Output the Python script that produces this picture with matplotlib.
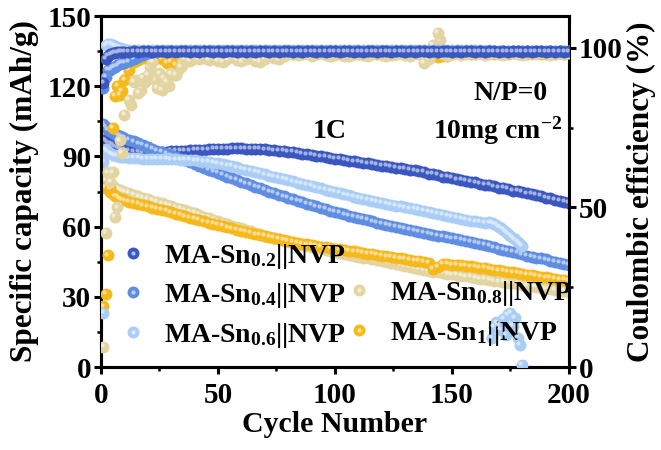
import matplotlib
matplotlib.use("Agg")
import matplotlib.pyplot as plt
from matplotlib.lines import Line2D
from matplotlib.transforms import ScaledTranslation
from matplotlib.colors import to_rgb
from matplotlib.ticker import MultipleLocator

plt.rcParams['font.family'] = 'Liberation Serif'
plt.rcParams['font.weight'] = 'bold'
plt.rcParams['axes.labelweight'] = 'bold'
plt.rcParams['mathtext.fontset'] = 'custom'
plt.rcParams['mathtext.rm'] = 'Liberation Serif:bold'
plt.rcParams['mathtext.bf'] = 'Liberation Serif:bold'
plt.rcParams['mathtext.it'] = 'Liberation Serif:bold'
plt.rcParams['mathtext.default'] = 'bf'

# cycle numbers (every cycle at the start, every 2nd after)
cyc = list(range(1, 11)) + list(range(12, 201, 2))
cyc_06 = list(range(1, 11)) + list(range(12, 167, 2)) + list(range(167, 181))

# specific capacity, mAh/g
cap_02 = [97.0, 96.5, 96.0, 95.4, 94.8, 94.3, 93.8, 93.4, 93.0, 92.7,
          92.3, 92.0, 91.8, 91.7, 91.7, 91.8, 91.9, 92.0, 92.1, 92.2, 92.3, 92.4, 92.5, 92.6, 92.7,
          92.8, 92.9, 93.0, 93.1, 93.2, 93.3, 93.3, 93.4, 93.4, 93.4, 93.3, 93.3, 93.2, 93.1, 93.0, 92.8, 92.6, 92.4, 92.2, 92.0,
          91.8, 91.5, 91.2, 90.9, 90.6, 90.3, 90.0, 89.7, 89.4, 89.1, 88.8, 88.5, 88.2, 87.9, 87.6, 87.3, 87.0, 86.7, 86.4, 86.1,
          85.8, 85.5, 85.2, 84.9, 84.6, 84.3, 84.0, 83.6, 83.4, 82.6, 82.4, 82.0, 81.4, 81.3, 80.8, 80.2, 80.1, 79.6, 79.0, 78.9,
          78.4, 77.8, 77.7, 77.2, 76.6, 76.5, 76.0, 75.4, 75.3, 74.8, 74.2, 74.1, 73.4, 73.1, 72.4, 72.1, 71.4, 71.1, 70.4, 70.0]
cap_04 = [104.0, 102.5, 101.5, 100.8, 100.2, 99.7, 99.2, 98.8, 98.4, 98.0,
          97.2, 96.4, 95.6, 94.8, 94.0, 93.2, 92.5, 91.8, 91.1, 90.4, 89.7, 89.0, 88.3, 87.6, 86.9,
          86.0, 85.2, 84.4, 83.6, 82.8, 82.0, 81.3, 80.6, 79.9, 79.2, 78.5, 77.8, 77.1, 76.4, 75.7, 75.0, 74.3, 73.6, 72.9, 72.2,
          71.6, 71.0, 70.4, 69.8, 69.2, 68.6, 68.0, 67.4, 66.8, 66.2, 65.7, 65.2, 64.7, 64.2, 63.7, 63.2, 62.7, 62.2, 61.7, 61.2,
          60.7, 60.2, 59.8, 59.4, 59.0, 58.6, 58.2, 57.8, 57.4, 57.0, 56.6, 56.2, 55.8, 55.4, 55.0, 54.6, 54.2, 53.8, 53.4, 53.0,
          52.6, 52.1, 51.6, 51.1, 50.6, 50.1, 49.6, 49.1, 48.6, 48.1, 47.6, 47.2, 46.8, 46.4, 46.0, 45.5, 45.0, 44.5, 44.0, 43.6]
cap_06 = [87.6, 93.0, 92.0, 91.3, 90.8, 90.4, 90.1, 89.9, 89.7, 89.6,
          89.4, 89.3, 89.2, 89.1, 89.0, 88.9, 88.9, 88.8, 88.8, 88.7, 88.7, 88.6, 88.5, 88.4, 88.3,
          88.1, 87.9, 87.6, 87.3, 87.0, 86.6, 86.2, 85.8, 85.3, 84.8, 84.3, 83.8, 83.3, 82.8, 82.3, 81.8, 81.3, 80.8, 80.3, 79.8,
          79.3, 78.8, 78.3, 77.8, 77.3, 76.8, 76.3, 75.8, 75.3, 74.8, 74.3, 73.8, 73.3, 72.8, 72.3, 71.8, 71.4, 71.0, 70.6, 70.2,
          69.8, 69.4, 69.0, 68.6, 68.2, 67.8, 67.4, 67.0, 66.6, 66.2, 65.8, 65.4, 65.0, 64.6, 64.2, 63.8, 63.4, 63.0, 62.6, 62.2,
          62.0, 61.7, 61.8,
          61.6, 61.2, 60.7, 60.0, 59.3, 58.5, 57.7, 56.9, 56.1, 55.3, 54.5, 53.6, 52.7, 51.8]
cap_08 = [78.0, 79.5, 78.5, 77.8, 77.2, 76.6, 76.2, 75.8, 75.4, 75.0,
          74.3, 73.6, 72.9, 72.3, 71.7, 71.1, 70.5, 69.9, 69.3, 68.7, 68.1, 67.5, 66.9, 66.3, 65.7,
          65.0, 64.3, 63.6, 62.9, 62.2, 61.6, 61.0, 60.4, 59.8, 59.2, 58.6, 58.0, 57.4, 56.8, 56.2, 55.6, 55.0, 54.5, 54.0, 53.5,
          53.0, 52.5, 52.0, 51.6, 51.2, 50.8, 50.4, 50.0, 49.6, 49.2, 48.8, 48.4, 48.0, 47.6, 47.2, 46.8, 46.4, 46.0, 45.6, 45.2,
          44.8, 44.4, 44.0, 43.6, 43.2, 42.8, 42.4, 42.0, 41.6, 41.2, 40.8, 40.5, 40.2, 39.9, 39.6, 39.3, 39.0, 38.7, 38.4, 38.1,
          37.8, 37.5, 37.2, 36.9, 36.6, 36.3, 36.0, 35.7, 35.4, 35.1, 34.8, 34.5, 34.2, 33.9, 33.6, 33.3, 33.0, 32.7, 32.4, 32.1]
cap_1 = [77.0, 76.5, 76.0, 75.0, 74.0, 73.2, 72.6, 72.0, 71.6, 71.2,
         70.6, 70.1, 69.6, 69.1, 68.6, 68.1, 67.6, 67.1, 66.6, 66.1, 65.6, 65.0, 64.4, 63.8, 63.2,
         62.7, 62.2, 61.7, 61.2, 60.7, 60.2, 59.7, 59.2, 58.7, 58.2, 57.7, 57.2, 56.7, 56.3, 55.9, 55.5, 55.1, 54.7, 54.3, 53.9,
         53.5, 53.1, 52.7, 52.4, 52.1, 51.8, 51.5, 51.2, 50.9, 50.6, 50.3, 50.0, 49.7, 49.4, 49.1, 48.8, 48.5, 48.2, 47.9, 47.6,
         47.3, 47.0, 46.7, 46.4, 46.1, 45.8, 45.5, 45.2, 44.9, 44.6, 42.0, 42.8, 44.2, 44.0, 43.8, 43.6, 43.4, 43.2, 43.0, 42.8,
         42.5, 42.2, 41.9, 41.6, 41.3, 41.0, 40.7, 40.4, 40.1, 39.8, 39.5, 39.2, 38.9, 38.6, 38.3, 38.0, 37.7, 37.4, 37.1, 36.8]

# coulombic efficiency, %
ce_02 = [89.0, 96.5, 97.6, 98.0, 98.3, 98.5, 98.6, 98.7, 98.7, 98.8,
         98.8, 98.9, 98.8, 98.9, 98.9, 98.8, 98.9, 98.9, 98.8, 98.9, 98.8, 98.9, 98.9, 98.8, 98.9,
         98.8, 98.9, 98.9, 98.8, 98.9, 98.8, 98.9, 98.9, 98.8, 98.9, 98.8, 98.9, 98.8, 98.9, 98.9, 98.8, 98.9, 98.8, 98.9, 98.9,
         98.8, 98.9, 98.8, 98.9, 98.9, 98.8, 98.9, 98.8, 98.9, 98.9, 98.8, 98.9, 98.9, 98.8, 98.9, 98.8, 98.9, 98.9, 98.8, 98.9,
         98.9, 98.8, 98.9, 98.9, 98.8, 98.9, 98.8, 98.9, 98.9, 98.8, 98.9, 98.8, 98.9, 98.9, 98.8, 98.9, 98.8, 98.9, 98.9, 98.8,
         98.9, 98.8, 98.9, 98.9, 98.8, 98.9, 98.8, 98.9, 98.9, 98.8, 98.9, 98.8, 98.9, 98.9, 98.8, 98.9, 98.8, 98.9, 98.8, 98.9]
ce_04 = [87.5, 91.0, 93.0, 93.2, 93.7, 94.0, 94.5, 95.0, 95.2, 95.4,
         95.8, 96.5, 97.2, 97.8, 98.3, 98.6, 98.8, 98.9, 98.9, 99.0, 99.0, 98.9, 99.0, 99.0, 98.9,
         99.0, 99.0, 98.9, 99.0, 99.1, 99.0, 98.9, 99.0, 99.0, 99.1, 99.0, 98.9, 99.0, 99.0, 99.1, 99.0, 99.0, 98.9, 99.0, 99.0,
         99.1, 99.0, 98.9, 99.0, 99.0, 99.1, 99.0, 99.0, 98.9, 99.0, 99.0, 99.1, 99.0, 98.9, 99.0, 99.0, 99.1, 99.0, 99.0, 98.9,
         99.0, 99.0, 99.1, 99.0, 98.9, 99.0, 99.0, 99.1, 99.0, 99.0, 98.9, 99.0, 99.0, 99.1, 99.0, 98.9, 99.0, 99.0, 99.1, 99.0,
         99.0, 98.9, 99.0, 99.0, 99.1, 99.0, 98.9, 99.0, 99.0, 99.1, 99.0, 99.0, 98.9, 99.0, 99.0, 99.1, 99.0, 98.9, 99.0, 99.0]
ce_06 = [17.0, 100.8, 101.3, 101.2, 101.0, 100.7, 100.4, 100.1, 99.8, 99.6,
         99.4, 99.3, 99.3, 99.2, 99.2, 99.3, 99.2, 99.2, 99.3, 99.2, 99.2, 99.3, 99.2, 99.2, 99.3,
         99.2, 99.2, 99.3, 99.2, 99.2, 99.3, 99.2, 99.2, 99.3, 99.2, 99.2, 99.3, 99.2, 99.2, 99.3, 99.2, 99.2, 99.3, 99.2, 99.2,
         99.3, 99.2, 99.2, 99.3, 99.2, 99.2, 99.3, 99.2, 99.2, 99.3, 99.2, 99.2, 99.3, 99.2, 99.2, 99.3, 99.2, 99.2, 99.3, 99.2,
         99.2, 99.3, 99.2, 99.2, 99.3, 99.2, 99.2, 99.3, 99.2, 99.2, 99.3, 99.2, 99.2, 99.3, 99.2, 99.2, 99.3, 99.2, 99.2, 99.3,
         99.2, 99.1, 99.2,
         9.0, 12.5, 14.0, 13.0, 11.6, 15.0, 10.0, 16.5, 17.0, 13.0, 15.5, 9.0, 7.0, 0.6]
ce_08 = [6.3, 42.0, 61.0, 58.0, 61.0, 47.0, 50.0, 71.0, 67.0, 79.0,
         83.7, 89.3, 85.9, 90.5, 91.5, 95.6, 87.5, 86.8, 89.3, 92.0, 91.5, 94.0, 96.5, 96.0, 97.0,
         96.5, 97.0, 96.3, 96.8, 96.0, 95.6, 96.4, 97.2, 96.2, 95.8, 96.6, 97.3, 96.0, 95.7, 96.5, 97.5, 97.0, 96.4, 97.6, 98.0,
         98.2, 97.8, 98.4, 98.0, 97.6, 98.3, 98.5, 97.9, 97.5, 97.8, 98.2, 97.6, 97.4, 98.0, 98.3, 97.7, 97.5, 98.1, 98.4, 97.9,
         97.6, 97.8, 98.2, 98.5, 97.9, 97.6, 98.0, 98.4, 95.3, 96.5, 101.0, 104.7, 98.0, 97.4, 98.2, 98.5, 97.8, 98.1, 98.4, 98.0,
         98.3, 97.9, 98.2, 98.5, 98.0, 97.8, 98.3, 98.5, 98.1, 97.9, 98.4, 98.2, 98.0, 98.5, 98.3, 97.9, 98.2, 98.4, 98.1, 98.3]
ce_1 = [19.0, 23.0, 35.0, 56.0, 75.0, 85.0, 88.0, 85.3, 86.5, 90.0,
        93.0, 95.5, 96.2, 97.0, 97.3, 97.5, 97.0, 96.5, 95.2, 95.5, 94.7, 95.2, 96.5, 97.5, 98.0,
        98.3, 98.1, 98.4, 98.2, 98.0, 98.3, 98.4, 98.1, 98.2, 98.4, 98.3, 98.0, 98.2, 98.4, 98.1, 98.3, 98.2, 98.4, 98.0, 98.3,
        98.2, 98.4, 98.1, 98.3, 98.2, 98.0, 98.4, 98.3, 98.1, 98.2, 98.4, 98.0, 98.3, 98.2, 98.1, 98.4, 98.3, 98.0, 98.2, 98.4,
        98.1, 98.3, 98.2, 98.4, 98.0, 98.2, 98.3, 98.1, 97.6, 97.4, 97.5, 97.3, 97.6, 97.5, 98.2, 98.3, 98.1, 98.4, 98.2, 98.0,
        98.3, 98.2, 98.4, 98.1, 98.3, 98.2, 98.0, 98.4, 98.3, 98.1, 98.2, 98.4, 98.3, 98.0, 98.2, 98.4, 98.1, 98.3, 98.2, 98.4]
# scattered Sn0.8 efficiency points in between
ce_08_x = [11, 13, 15, 17, 19, 21, 23, 25, 27, 29, 31, 33, 35, 139, 145]
ce_08_y = [90.9, 82.0, 90.0, 86.8, 89.3, 94.0, 90.0, 92.0, 90.5, 88.0, 91.5, 93.0, 95.0, 96.2, 102.5]

labels = [r'MA-Sn$_{0.2}$||NVP', r'MA-Sn$_{0.4}$||NVP', r'MA-Sn$_{0.6}$||NVP',
          r'MA-Sn$_{0.8}$||NVP', r'MA-Sn$_{1}$||NVP']
colors = ['#3a57c0', '#5f8de2', '#aacdf5', '#e3d5a2', '#f5b91c']

MS = 8.6   # ball size
HS = 3.0   # highlight size


def light(c, f=0.6):
    r, g, b = to_rgb(c)
    return (r + (1 - r) * f, g + (1 - g) * f, b + (1 - b) * f)


fig = plt.figure(figsize=(6.61, 4.5), dpi=100)
ax = fig.add_axes([0.1528, 0.1844, 0.708, 0.78])
ax2 = ax.twinx()
shift = ScaledTranslation(-1.3 / 72, 1.3 / 72, fig.dpi_scale_trans)


def balls(a, x, y, c, z):
    a.plot(x, y, 'o', ms=MS, mfc=c, mec=c, mew=0, ls='none', zorder=z)
    a.plot(x, y, 'o', ms=HS, mfc=light(c), mew=0, ls='none', alpha=0.9,
           zorder=z + 0.1, transform=a.transData + shift)


caps = [cap_02, cap_04, cap_06, cap_08, cap_1]
ces = [ce_02, ce_04, ce_06, ce_08, ce_1]
xs = [cyc, cyc, cyc_06, cyc, cyc]
for i in range(5):
    balls(ax, xs[i], caps[i], colors[i], 2 + i)
balls(ax2, ce_08_x, ce_08_y, colors[3], 2)
for i in [4, 3, 2, 1, 0]:
    balls(ax2, xs[i], ces[i], colors[i], 3 + (4 - i))

ax.set_xlim(0, 200)
ax.set_ylim(0, 150)
ax2.set_ylim(0, 110)
ax.xaxis.set_major_locator(MultipleLocator(50))
ax.xaxis.set_minor_locator(MultipleLocator(25))
ax.yaxis.set_major_locator(MultipleLocator(30))
ax.yaxis.set_minor_locator(MultipleLocator(15))
ax2.yaxis.set_major_locator(MultipleLocator(50))
ax2.yaxis.set_minor_locator(MultipleLocator(25))

for a in (ax, ax2):
    for s in a.spines.values():
        s.set_linewidth(2.2)
    a.tick_params(which='major', direction='out', length=5, width=2.2, labelsize=21, pad=2)
    a.tick_params(which='minor', direction='out', length=3, width=1.8)
ax.tick_params(axis='x', pad=6)

ax.set_xlabel('Cycle Number', fontsize=21.5, labelpad=1)
ax.set_ylabel('Specific capacity (mAh/g)', fontsize=22.5, labelpad=6)
ax2.set_ylabel('Coulombic efficiency (%)', fontsize=22.5, labelpad=3)

ax.text(0.453, 0.652, '1C', transform=ax.transAxes, fontsize=20, va='baseline', ha='left')
ax.text(0.795, 0.761, 'N/P=0', transform=ax.transAxes, fontsize=20, va='baseline', ha='left')
ax.text(0.709, 0.652, r'10mg cm$^{-2}$', transform=ax.transAxes, fontsize=20, va='baseline', ha='left')

handles = []
for c in colors:
    h1 = Line2D([], [], marker='o', ms=MS, mfc=c, mew=0, ls='none')
    h2 = Line2D([], [], marker='o', ms=HS, mfc=light(c), mew=0, ls='none')
    handles.append((h1, h2))
blank = Line2D([], [], ls='none')
leg = ax2.legend([handles[0], handles[1], handles[2], blank, handles[3], handles[4]],
                 [labels[0], labels[1], labels[2], '', labels[3], labels[4]],
                 ncol=2, loc='upper left', bbox_to_anchor=(0.027, 0.373), frameon=False,
                 fontsize=20, handlelength=1.0, handletextpad=0.6, columnspacing=0.0,
                 labelspacing=0.38, borderpad=0.2, borderaxespad=0)

fig.savefig('out.png', dpi=100)
